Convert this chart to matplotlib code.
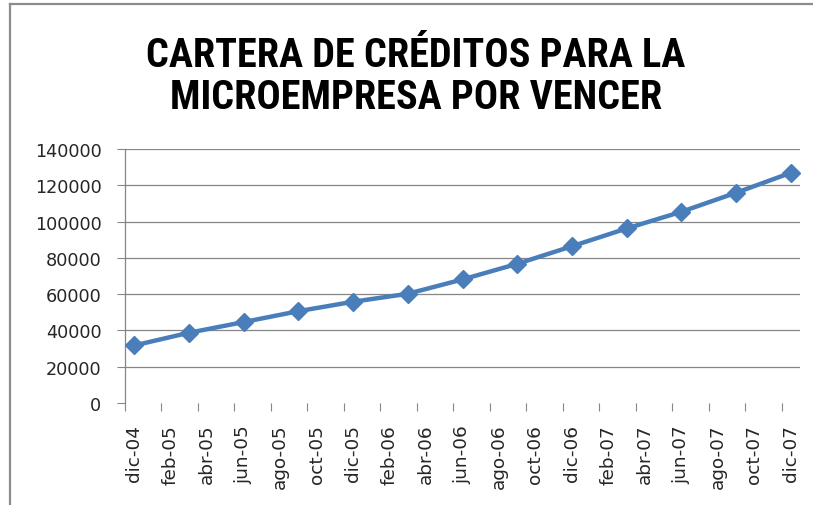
import matplotlib
matplotlib.use("Agg")
import matplotlib.pyplot as plt
from matplotlib.lines import Line2D
from matplotlib import font_manager

# quarterly data points (Spanish month abbreviations)
fechas = ["dic-04", "mar-05", "jun-05", "sep-05", "dic-05", "mar-06", "jun-06",
          "sep-06", "dic-06", "mar-07", "jun-07", "sep-07", "dic-07"]
valores = [31700, 38700, 44600, 50600, 55800, 60200, 68100,
           76700, 86400, 96200, 105400, 115900, 126900]

# axis labels every two months
etiquetas = ["dic-04", "feb-05", "abr-05", "jun-05", "ago-05", "oct-05", "dic-05",
             "feb-06", "abr-06", "jun-06", "ago-06", "oct-06", "dic-06",
             "feb-07", "abr-07", "jun-07", "ago-07", "oct-07", "dic-07"]
yticks = [0, 20000, 40000, 60000, 80000, 100000, 120000, 140000]

MESES = ["ene", "feb", "mar", "abr", "may", "jun", "jul", "ago", "sep", "oct", "nov", "dic"]


def mes_idx(s):
    # months elapsed since dic-04
    m, a = s.split("-")
    return (2000 + int(a)) * 12 + MESES.index(m) - (2004 * 12 + 11)


xs = [mes_idx(f) for f in fechas]
xt = [mes_idx(e) for e in etiquetas]

BLUE = "#4A7EBB"
GRID = "#868686"
TXT = "#262626"

fig = plt.figure(figsize=(8.13, 5.06), dpi=100)
ax = fig.add_axes([125 / 813, 1 - 404 / 506, 675 / 813, 254 / 506])

ax.plot(xs, valores, color=BLUE, linewidth=3.2, marker="D", markersize=9,
        markerfacecolor=BLUE, markeredgecolor=BLUE, zorder=3)

ax.set_xlim(-0.5, xt[-1] + 0.5)
ax.set_ylim(0, 140000)
ax.set_yticks(yticks)
ax.set_yticklabels([str(v) for v in yticks])
ax.set_xticks(xt)
ax.set_xticklabels(etiquetas, rotation=90)
ax.set_xticks([-0.5] + [x - 0.5 for x in xt[1:]], minor=True)

ax.tick_params(axis="x", which="major", length=0, pad=15, labelsize=13.3, colors=TXT)
ax.tick_params(axis="x", which="minor", length=6, width=0.8, color=GRID, direction="out")
ax.tick_params(axis="y", length=6, width=0.8, color=GRID, pad=11, labelsize=12.7,
               labelcolor=TXT)

ax.grid(True, axis="y", color=GRID, linewidth=0.9)
ax.get_ygridlines()[0].set_visible(False)
for s in ["top", "right", "bottom"]:
    ax.spines[s].set_visible(False)
ax.spines["left"].set_color(GRID)
ax.spines["left"].set_linewidth(0.9)

# narrow bold face for the title if one is available
nombres = {f.name for f in font_manager.fontManager.ttflist}
titulo_font = "DejaVu Sans"
for cand in ["Liberation Sans Narrow", "DejaVu Sans Condensed", "Roboto Condensed"]:
    if cand in nombres:
        titulo_font = cand
        break

fig.text(416 / 813, 1 - 77 / 506, "CARTERA DE CRÉDITOS PARA LA\nMICROEMPRESA POR VENCER",
         ha="center", va="center", fontsize=29, fontweight="bold", linespacing=1.13,
         family=[titulo_font, "DejaVu Sans"], fontstretch="condensed", color="black")

# chart area border (only left and top visible in the crop)
fig.add_artist(Line2D([10 / 813, 10 / 813], [0, 1 - 5 / 506], color="#8c8c8c", linewidth=1.6,
                      transform=fig.transFigure))
fig.add_artist(Line2D([10 / 813, 1], [1 - 5 / 506, 1 - 5 / 506], color="#8c8c8c", linewidth=1.6,
                      transform=fig.transFigure))

fig.savefig("out.png", dpi=100)
